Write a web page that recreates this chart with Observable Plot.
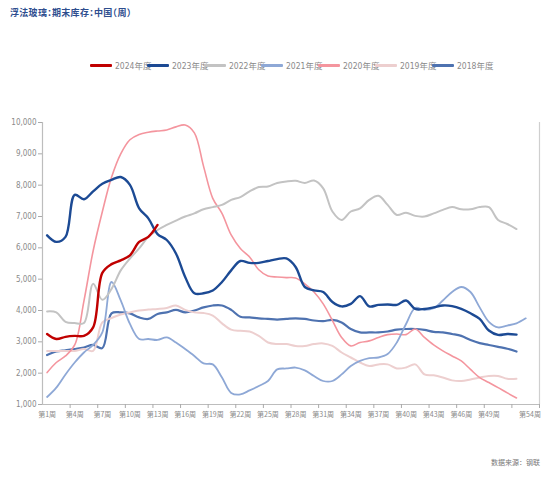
<!DOCTYPE html>
<html>
<head>
<meta charset="utf-8">
<script src="https://cdn.jsdelivr.net/npm/d3@7"></script>
<script src="https://cdn.jsdelivr.net/npm/@observablehq/plot@0.6"></script>
<style>
  html, body { margin: 0; padding: 0; background: #fff; overflow: hidden; }
  #wrap { position: relative; width: 542px; height: 479px; overflow: hidden; }
  #title { position: absolute; left: 10px; top: 6px; font-family: "Noto Sans CJK SC", sans-serif; font-size: 9px; font-weight: bold; color: #2E4D8E; font-feature-settings: "halt"; letter-spacing: 0.3px; white-space: nowrap; }
  #legend { position: absolute; left: 0; top: 58px; height: 14px; }
  .item { position: absolute; top: 0; display: flex; align-items: center; height: 14px; white-space: nowrap; }
  .sw { width: 22px; height: 3px; margin-right: 3px; border-radius: 1px; }
  .lb { font-family: "Liberation Sans Narrow", "DejaVu Sans Condensed", "Noto Sans CJK SC", sans-serif; font-size: 8.5px; color: #8a8a8a; }
  #source { position: absolute; right: 2px; top: 457px; font-family: "Noto Sans CJK SC", sans-serif; font-size: 7px; color: #777; white-space: nowrap; }
  #chart { position: absolute; left: 0; top: 0; }
  #chart svg text { fill: #8a8a8a; }
</style>
</head>
<body>
<div id="wrap">
  <div id="chart"></div>
  <div id="title">浮法玻璃：期末库存：中国（周）</div>
  <div id="legend"></div>
  <div id="source">数据来源：钢联</div>
</div>
<script>
const seriesNames = ["2024年度", "2023年度", "2022年度", "2021年度", "2020年度", "2019年度", "2018年度"];
const seriesColors = ["#C00000", "#1C4A94", "#C3C3C3", "#8EA8D6", "#F4959E", "#EDCFCF", "#4E72B0"];
const seriesWidths = [2.4, 2.4, 2, 1.8, 1.6, 2, 2.2];

const v2024 = [3250,3090,3160,3190,3190,3460,5200,5480,5600,5760,6190,6350,6730];
const v2023 = [6400,6190,6350,7690,7550,7800,8045,8170,8260,8010,7260,6940,6440,6250,5820,5070,4550,4550,4640,4910,5280,5580,5520,5520,5580,5640,5660,5390,4750,4640,4590,4270,4130,4210,4460,4130,4180,4190,4180,4320,4050,4050,4100,4160,4140,4050,3910,3730,3360,3220,3250,3230];
const v2022 = [3970,3940,3640,3600,3600,4850,4340,4690,5280,5660,5980,6350,6570,6730,6870,7000,7100,7230,7300,7370,7530,7620,7800,7940,7960,8070,8120,8140,8070,8150,7900,7160,6890,7160,7260,7530,7660,7370,7050,7120,7020,7000,7100,7210,7300,7230,7230,7300,7300,6890,6760,6600];
const v2021 = [1240,1540,1960,2340,2660,2900,3300,4910,4320,3570,3090,3090,3060,3140,2980,2770,2550,2310,2280,1860,1370,1320,1450,1590,1750,2120,2150,2180,2090,1910,1750,1750,1960,2230,2390,2480,2500,2610,2980,3570,4080,4020,4070,4320,4590,4750,4590,4100,3640,3460,3520,3590,3750];
const v2020 = [2020,2340,2550,2900,4300,5900,7150,8250,9000,9450,9620,9690,9730,9760,9860,9920,9670,8600,7580,7100,6410,5980,5710,5300,5100,5070,5050,5040,4850,4590,4210,3680,3140,2870,2980,3030,3140,3230,3250,3230,3410,3140,2900,2710,2550,2390,2120,1860,1700,1540,1370,1210];
const v2019 = [2710,2710,2710,2710,2770,2710,3620,3760,3870,3940,4000,4030,4050,4080,4160,4020,3940,3920,3840,3590,3390,3350,3330,3190,2980,2930,2930,2870,2870,2930,2950,2870,2660,2500,2340,2230,2280,2280,2150,2180,2280,1960,1930,1860,1770,1750,1800,1860,1910,1910,1820,1820];
const v2018 = [2580,2690,2730,2770,2820,2900,2800,3910,3940,3910,3780,3730,3890,3940,4020,3940,4000,4100,4160,4160,4020,3800,3780,3750,3730,3710,3730,3750,3730,3680,3660,3700,3620,3410,3300,3300,3300,3330,3390,3410,3410,3380,3320,3300,3250,3190,3060,2960,2900,2840,2780,2690];

const seriesValues = [v2024, v2023, v2022, v2021, v2020, v2019, v2018];
const yTicks = [1000,2000,3000,4000,5000,6000,7000,8000,9000,10000];
const xLabelWeeks = [1,4,7,10,13,16,19,22,25,28,31,34,37,40,43,46,49];
const xLastWeek = [54];
const xLabelText = w => "第" + w + "周";
const xTickBoundaries = [3.5,6.5,9.5,12.5,15.5,18.5,21.5,24.5,27.5,30.5,33.5,36.5,39.5,42.5,45.5,48.5,51.5,54.5];

// build rows
const rows = [];
seriesNames.forEach((name, i) => {
  seriesValues[i].forEach((v, j) => rows.push({series: name, week: j + 1, value: v}));
});

const lineMarks = [];
for (let i = seriesNames.length - 1; i >= 0; i--) {
  lineMarks.push(Plot.line(rows.filter(r => r.series === seriesNames[i]), {
    x: "week", y: "value", stroke: seriesColors[i], strokeWidth: seriesWidths[i],
    curve: "catmull-rom", strokeLinejoin: "round", strokeLinecap: "round"
  }));
}

const cjk = '"Noto Sans CJK SC", sans-serif';
const chart = Plot.plot({
  width: 542, height: 479,
  marginLeft: 42, marginRight: 3, marginTop: 122, marginBottom: 75,
  style: {fontFamily: '"Liberation Sans Narrow", "DejaVu Sans Condensed", "Noto Sans CJK SC", sans-serif', background: "#fff"},
  x: {domain: [0.5, 54.5], axis: null},
  y: {domain: [1000, 10000], axis: null},
  marks: [
    Plot.ruleX([0.5], {stroke: "#bdbdbd", strokeWidth: 1.2}),
    Plot.ruleX([54.5], {stroke: "#cfcfcf", strokeWidth: 1.2}),
    Plot.ruleY([1000], {stroke: "#bdbdbd", strokeWidth: 1.2}),
    Plot.axisY({ticks: yTicks, tickFormat: d3.format(","), tickSize: 4, tickPadding: 2, stroke: "#aaa", fontSize: 8, label: null}),
    Plot.axisX({ticks: xTickBoundaries, tickFormat: () => "", tickSize: 4, stroke: "#aaa", label: null}),
    Plot.axisX({ticks: xLabelWeeks, tickFormat: xLabelText, tickSize: 0, tickPadding: 8, fontSize: 7, label: null, fontFamily: cjk}),
    Plot.axisX({ticks: xLastWeek, tickFormat: xLabelText, tickSize: 0, tickPadding: 8, fontSize: 7, label: null, fontFamily: cjk, textAnchor: "end", dx: 6}),
    ...lineMarks
  ]
});
document.getElementById("chart").appendChild(chart);

// legend
const legend = document.getElementById("legend");
seriesNames.forEach((name, i) => {
  const it = document.createElement("div");
  it.className = "item";
  it.style.left = (90 + i * 57) + "px";
  const sw = document.createElement("div");
  sw.className = "sw";
  sw.style.background = seriesColors[i];
  const lb = document.createElement("span");
  lb.className = "lb";
  lb.textContent = name;
  it.appendChild(sw); it.appendChild(lb);
  legend.appendChild(it);
});
</script>
</body>
</html>
